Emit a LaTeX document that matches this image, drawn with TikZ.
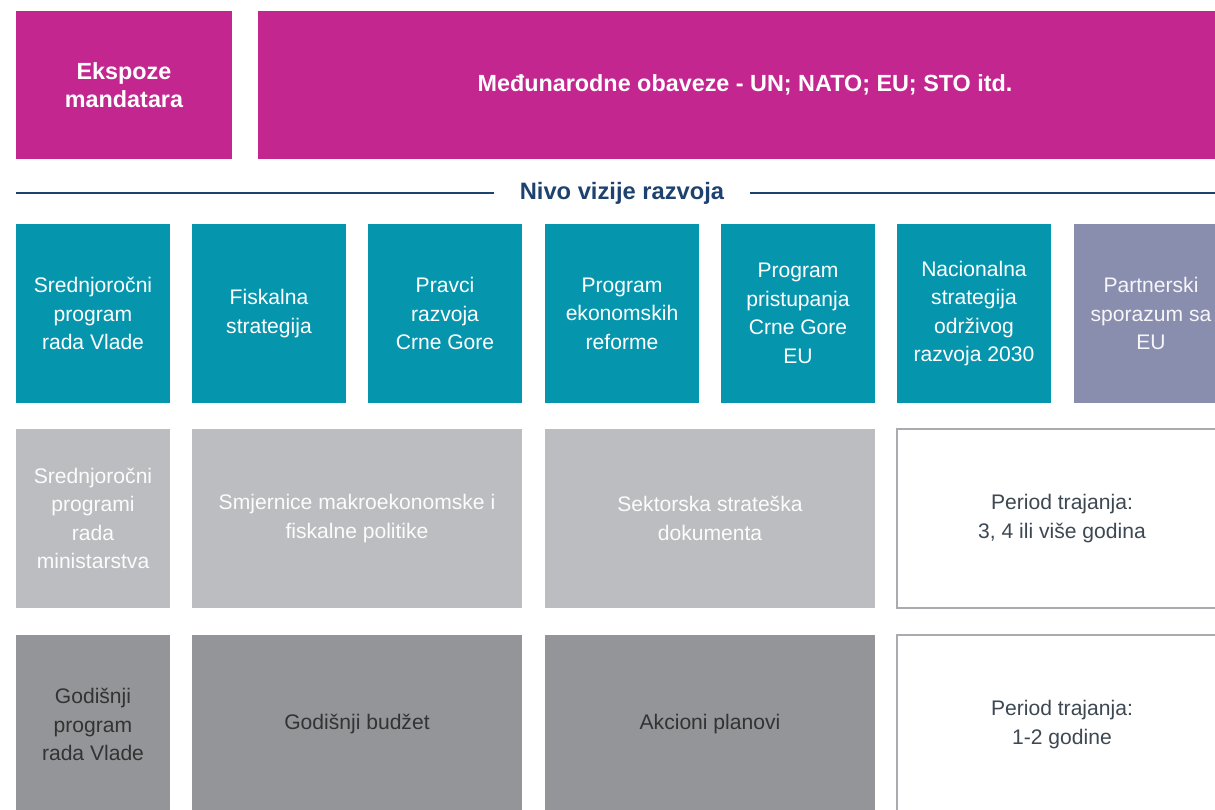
\documentclass[tikz,border=0pt]{standalone}
\usepackage{fontspec}
\setmainfont{Liberation Sans}
\usepackage{tikz}
\definecolor{mandateColor}{RGB}{196,38,143}
\definecolor{visionColor}{RGB}{5,150,174}
\definecolor{partnerColor}{RGB}{138,142,174}
\definecolor{midTermColor}{RGB}{188,189,192}
\definecolor{annualColor}{RGB}{147,149,152}
\definecolor{periodBorder}{RGB}{170,171,174}
\definecolor{periodText}{RGB}{61,72,82}
\definecolor{levelColor}{RGB}{30,66,112}
\tikzstyle{cell} = [inner sep=0pt, align=center, font=\fontsize{12}{16.2}\selectfont]
\tikzstyle{narrowCell} = [cell, minimum width=3.08cm, minimum height=3.58cm]
\tikzstyle{wideCell} = [cell, minimum width=6.6cm, minimum height=3.58cm]
\tikzstyle{mandateStyle} = [cell, fill=mandateColor, text=white, minimum height=2.96cm, font=\fontsize{13.3}{16}\selectfont\bfseries]
\tikzstyle{visionStyle} = [fill=visionColor, text=white]
\tikzstyle{partnerStyle} = [fill=partnerColor, text=white!92!partnerColor]
\tikzstyle{midTermStyle} = [fill=midTermColor, text=white!95!midTermColor]
\tikzstyle{annualStyle} = [fill=annualColor, text=black!80]
\tikzstyle{periodStyle} = [fill=white, draw=periodBorder, line width=1.4pt, text=periodText]
\tikzstyle{levelLine} = [color=levelColor, line width=1.2pt]
\tikzstyle{levelText} = [text=levelColor, font=\fontsize{13.5}{15}\selectfont\bfseries, inner xsep=0.5cm]
\newcommand{\narrowBox}[5]{\node [narrowCell, #1] (#2) at (#3, #4) {#5};}
\newcommand{\wideBox}[5]{\node [wideCell, #1] (#2) at (#3, #4) {#5};}

\begin{document}
\begin{tikzpicture}[x=0.02cm, y=-0.02cm]
  \useasboundingbox (0,0) rectangle (1215,809);
  \clip (0,0) rectangle (1215,809);

  % top row
  \node [mandateStyle, minimum width=4.32cm] (ekspoze) at (124,85) {Ekspoze\\mandatara};
  \node [mandateStyle, minimum width=19.48cm] (obaveze) at (745,85) {Međunarodne obaveze - UN; NATO; EU; STO itd.};

  % vision level divider
  \node [levelText] (nivo) at (622,193) {Nivo vizije razvoja};
  \coordinate (lineStart) at (16,193);
  \coordinate (lineEnd) at (1215,193);
  \draw [levelLine] (lineStart) -- (nivo.west);
  \draw [levelLine] (nivo.east) -- (lineEnd);

  % strategic documents
  \narrowBox{visionStyle}{srednjorocni}{93}{313.5}{Srednjoročni\\program\\rada Vlade}
  \narrowBox{visionStyle}{fiskalna}{269}{313.5}{Fiskalna\\strategija}
  \narrowBox{visionStyle}{pravci}{445}{313.5}{Pravci\\razvoja\\Crne Gore}
  \narrowBox{visionStyle}{per}{622}{313.5}{Program\\ekonomskih\\reforme}
  \narrowBox{visionStyle}{pristupanje}{798}{313.5}{Program\\pristupanja\\Crne Gore\\EU}
  \narrowBox{visionStyle}{nsor}{974}{313.5}{Nacionalna\\strategija\\održivog\\razvoja 2030}
  \narrowBox{partnerStyle}{partnerski}{1151}{313.5}{Partnerski\\sporazum sa\\EU}

  % medium term
  \narrowBox{midTermStyle}{ministarstva}{93}{518.5}{Srednjoročni\\programi\\rada\\ministarstva}
  \wideBox{midTermStyle}{smjernice}{357}{518.5}{Smjernice makroekonomske i\\fiskalne politike}
  \wideBox{midTermStyle}{sektorska}{710}{518.5}{Sektorska strateška\\dokumenta}
  \wideBox{periodStyle}{visegodisnji}{1062}{518.5}{Period trajanja:\\3, 4 ili više godina}

  % annual
  \narrowBox{annualStyle}{godisnji}{93}{724.5}{Godišnji\\program\\rada Vlade}
  \wideBox{annualStyle}{budzet}{357}{724.5}{Godišnji budžet}
  \wideBox{annualStyle}{akcioni}{710}{724.5}{Akcioni planovi}
  \wideBox{periodStyle}{godisnjiPeriod}{1062}{724.5}{Period trajanja:\\1-2 godine}
\end{tikzpicture}
\end{document}
